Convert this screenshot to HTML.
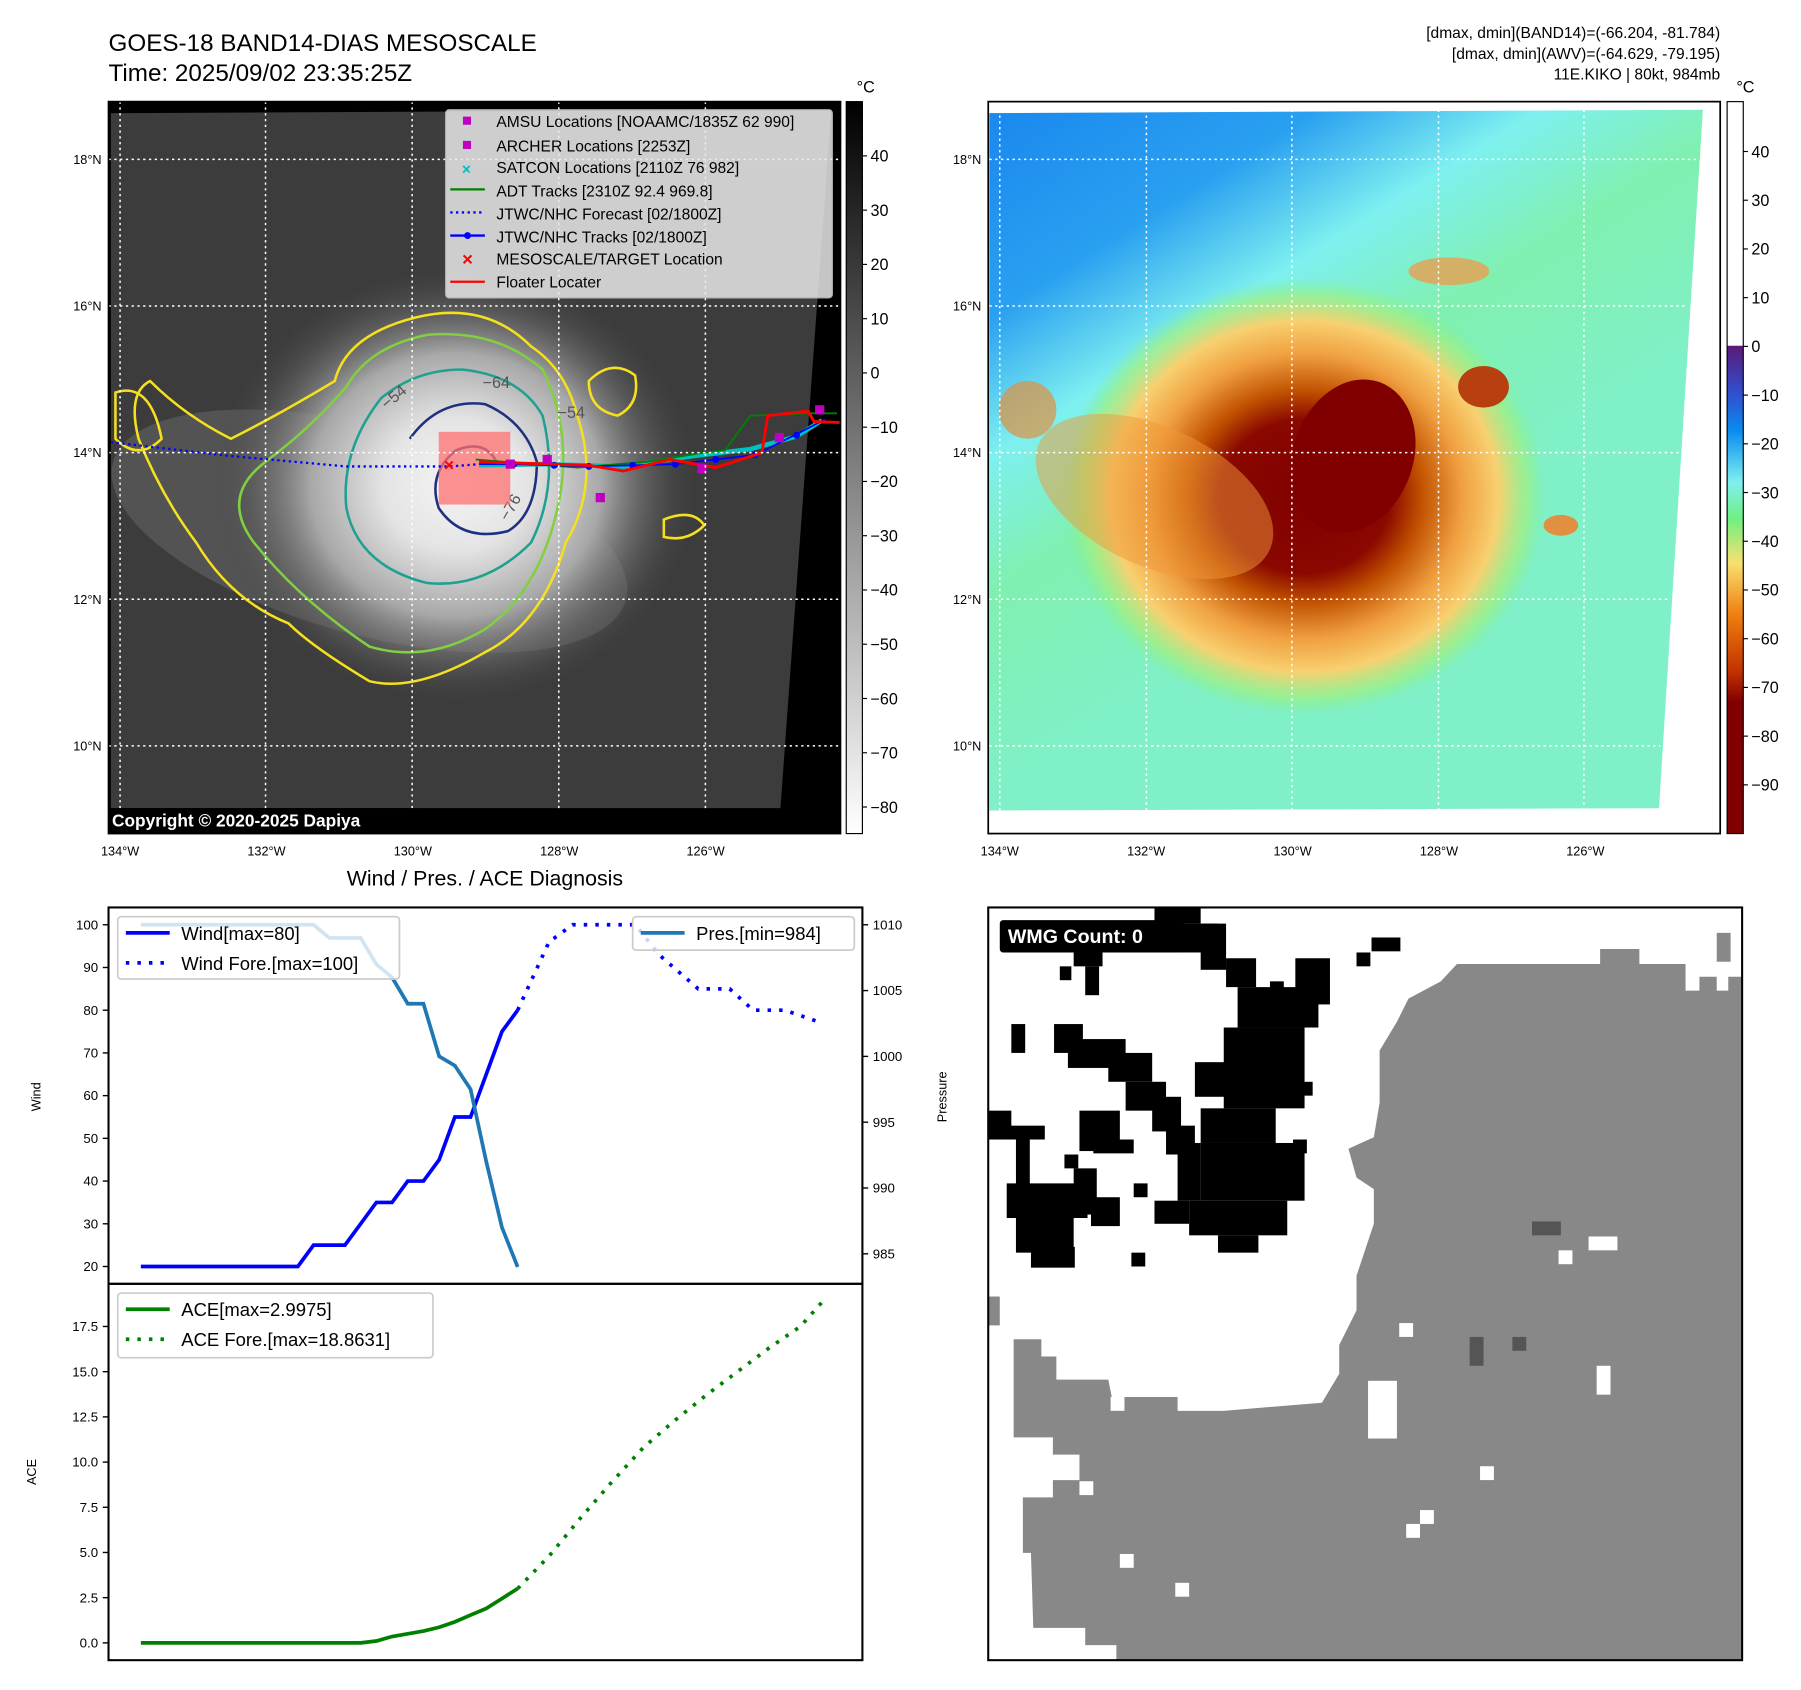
<!DOCTYPE html>
<html><head><meta charset="utf-8"><style>
html,body{margin:0;padding:0;background:#fff;}
svg{display:block;font-family:"Liberation Sans","DejaVu Sans",sans-serif;}
</style></head><body>
<svg id="fig" width="1801" height="1690" viewBox="0 0 1560 1463.8" xmlns="http://www.w3.org/2000/svg">
<defs>
<radialGradient id="coreG" cx="0.5" cy="0.5" r="0.5">
<stop offset="0" stop-color="#f4f4f4"/><stop offset="0.3" stop-color="#e4e4e4"/><stop offset="0.6" stop-color="#a8a8a8"/><stop offset="1" stop-color="#444" stop-opacity="0"/></radialGradient>
<linearGradient id="cb1" x1="0" y1="0" x2="0" y2="1"><stop offset="0" stop-color="#000"/><stop offset="1" stop-color="#fff"/></linearGradient>
<linearGradient id="cb2" x1="0" y1="0" x2="0" y2="1">
<stop offset="0" stop-color="#fff"/><stop offset="0.333" stop-color="#fff"/><stop offset="0.334" stop-color="#5a1a7a"/>
<stop offset="0.4" stop-color="#3050d0"/><stop offset="0.45" stop-color="#0a8cf0"/><stop offset="0.52" stop-color="#7ff0f0"/>
<stop offset="0.57" stop-color="#70f080"/><stop offset="0.63" stop-color="#f8e070"/><stop offset="0.7" stop-color="#f08010"/>
<stop offset="0.78" stop-color="#c03000"/><stop offset="0.82" stop-color="#800000"/><stop offset="1" stop-color="#800000"/></linearGradient>
<linearGradient id="bg2" x1="0" y1="0" x2="0.45" y2="0.7">
<stop offset="0" stop-color="#1a88ee"/><stop offset="0.3" stop-color="#2aa0f0"/><stop offset="0.5" stop-color="#7ef0f0"/><stop offset="0.7" stop-color="#80f0b0"/><stop offset="1" stop-color="#80f0c8"/></linearGradient>
<radialGradient id="storm2" cx="0.5" cy="0.5" r="0.5">
<stop offset="0" stop-color="#800000"/><stop offset="0.35" stop-color="#8a0800"/><stop offset="0.48" stop-color="#c05000"/><stop offset="0.65" stop-color="#f0a040"/><stop offset="0.8" stop-color="#f8d070"/><stop offset="0.92" stop-color="#a0f080" stop-opacity="0.7"/><stop offset="1" stop-color="#80f090" stop-opacity="0"/></radialGradient>
</defs>

<text x="94" y="44" font-size="21">GOES-18 BAND14-DIAS MESOSCALE</text>
<text x="94" y="70" font-size="21">Time: 2025/09/02 23:35:25Z</text>
<g font-size="13.5" text-anchor="end">
<text x="1490" y="33">[dmax, dmin](BAND14)=(-66.204, -81.784)</text>
<text x="1490" y="51">[dmax, dmin](AWV)=(-64.629, -79.195)</text>
<text x="1490" y="69">11E.KIKO | 80kt, 984mb</text>
</g>

<g>
<rect x="94" y="88" width="634" height="634" fill="#000"/>
<polygon points="96,98 720,95 676,700 96,700" fill="#3c3c3c"/>
<ellipse cx="320" cy="460" rx="230" ry="90" fill="#6a6a6a" opacity="0.5" transform="rotate(15 320 460)"/>
<ellipse cx="395" cy="420" rx="210" ry="190" fill="url(#coreG)"/>
<g fill="none" stroke-width="2.2">
<path d="M290,330 Q300,290 360,275 Q420,260 460,300 Q490,320 500,360 Q520,420 490,470 Q470,540 420,565 Q360,600 320,590 Q270,560 250,540 Q200,520 170,470 Q140,430 120,380 Q110,340 130,330 Q160,360 200,380 Q240,360 290,330Z" stroke="#f5e020"/>
<path d="M300,335 Q320,300 370,290 Q430,285 470,320 Q495,370 485,430 Q470,510 420,545 Q370,575 320,560 Q260,520 220,470 Q190,430 230,400 Q270,370 300,335Z" stroke="#80d040"/>
<path d="M330,345 Q360,320 400,320 Q450,325 470,360 Q485,420 460,470 Q420,510 370,505 Q310,490 300,440 Q295,390 330,345Z" stroke="#20a090"/>
<path d="M355,380 Q380,345 420,350 Q455,365 465,400 Q465,445 440,460 Q400,470 380,440 Q370,410 395,390 Q420,380 430,400" stroke="#203080"/>
<path d="M510,330 Q530,310 550,325 Q555,350 535,360 Q510,355 510,330Z" stroke="#f5e020"/>
<path d="M575,450 Q600,440 610,455 Q595,470 575,465Z" stroke="#f5e020"/>
<path d="M100,340 Q130,330 140,380 Q120,400 100,380Z" stroke="#f5e020"/>
</g>
<g fill="#555" font-size="14"><text x="418" y="336">−64</text><text x="483" y="362">−54</text><text x="335" y="355" transform="rotate(-40 335 355)">−54</text><text x="440" y="452" transform="rotate(-60 440 452)">−76</text></g>
<rect x="380" y="374" width="62" height="63" fill="#ff7070" opacity="0.75"/>
<polyline points="96,383 200,395 300,404 390,404 415,402" fill="none" stroke="#0000ff" stroke-width="2" stroke-dasharray="2,3"/>
<polyline points="415,403 470,402 540,404 600,395 650,389 690,378 712,364" fill="none" stroke="#00c0c0" stroke-width="4"/>
<polyline points="412,398 500,405 560,400 610,392 628,390 650,360 700,358 725,358" fill="none" stroke="#008000" stroke-width="1.6"/>
<polyline points="415,402 445,402 480,403 510,404 548,403 585,402 620,398 654,394 690,376 715,363" fill="none" stroke="#0000ff" stroke-width="1.5"/>
<g fill="#0000ff"><circle cx="445" cy="402" r="3"/><circle cx="480" cy="403" r="3"/><circle cx="510" cy="404" r="3"/><circle cx="548" cy="403" r="3"/><circle cx="585" cy="402" r="3"/><circle cx="620" cy="398" r="3"/><circle cx="654" cy="394" r="3"/><circle cx="690" cy="377" r="3"/></g>
<polyline points="415,400 510,403 540,408 580,398 620,405 660,392 665,360 700,356 705,365 728,366" fill="none" stroke="#ff0000" stroke-width="2.5"/>
<g fill="#c000c0"><rect x="470" y="394" width="8" height="8"/><rect x="516" y="427" width="8" height="8"/><rect x="604" y="402" width="8" height="8"/><rect x="706" y="351" width="8" height="8"/><rect x="671" y="375" width="8" height="8"/><rect x="438" y="398" width="8" height="8"/></g>
<text x="389" y="408" font-size="15" fill="#ff0000" text-anchor="middle" font-weight="bold">×</text>
<g stroke="#fff" stroke-width="1.3" stroke-dasharray="2,3">
<line x1="104" y1="88" x2="104" y2="700"/><line x1="230" y1="88" x2="230" y2="700"/><line x1="357" y1="88" x2="357" y2="700"/><line x1="484" y1="88" x2="484" y2="700"/><line x1="611" y1="88" x2="611" y2="700"/>
<line x1="94" y1="138" x2="728" y2="138"/><line x1="94" y1="265" x2="728" y2="265"/><line x1="94" y1="392" x2="728" y2="392"/><line x1="94" y1="519" x2="728" y2="519"/><line x1="94" y1="646" x2="728" y2="646"/>
</g>
<rect x="94" y="700" width="270" height="22" fill="#000"/>
<text x="97" y="716" font-size="15" font-weight="bold" fill="#fff">Copyright © 2020-2025 Dapiya</text>
<rect x="94" y="88" width="634" height="634" fill="none" stroke="#000" stroke-width="1.5"/>
</g>
<g>
<rect x="386" y="95" width="335" height="163" rx="3" fill="#e8e8e8" opacity="0.85" stroke="#ccc"/>
<g font-size="13.5" fill="#000">
<rect x="401" y="101" width="7" height="7" fill="#c000c0"/><text x="430" y="110">AMSU Locations [NOAAMC/1835Z 62 990]</text>
<rect x="401" y="122" width="7" height="7" fill="#c000c0"/><text x="430" y="131">ARCHER Locations [2253Z]</text>
<text x="404" y="151" fill="#00c0c0" text-anchor="middle" font-weight="bold">×</text><text x="430" y="150">SATCON Locations [2110Z 76 982]</text>
<line x1="390" y1="164" x2="420" y2="164" stroke="#008000" stroke-width="2"/><text x="430" y="170">ADT Tracks [2310Z 92.4 969.8]</text>
<line x1="390" y1="184" x2="420" y2="184" stroke="#0000ff" stroke-width="2" stroke-dasharray="2,3"/><text x="430" y="190">JTWC/NHC Forecast [02/1800Z]</text>
<line x1="390" y1="204" x2="420" y2="204" stroke="#0000ff" stroke-width="2"/><circle cx="405" cy="204" r="3" fill="#0000ff"/><text x="430" y="210">JTWC/NHC Tracks [02/1800Z]</text>
<text x="405" y="230" fill="#ff0000" text-anchor="middle" font-weight="bold" font-size="16">×</text><text x="430" y="229">MESOSCALE/TARGET Location</text>
<line x1="390" y1="244" x2="420" y2="244" stroke="#ff0000" stroke-width="2"/><text x="430" y="249">Floater Locater</text>
</g></g>
<g>
<rect x="733" y="88" width="14" height="634" fill="url(#cb1)" stroke="#000"/>
<text x="742" y="80" font-size="14">°C</text>
<g font-size="14" id="cb1ticks"></g>
</g>
<g font-size="11" id="map1ticks"></g>

<g>
<rect x="856" y="88" width="634" height="634" fill="#fff"/>
<polygon points="857,98 1475,95 1437,700 857,702" fill="url(#bg2)"/>
<ellipse cx="1130" cy="430" rx="210" ry="190" fill="url(#storm2)"/>
<ellipse cx="1000" cy="430" rx="110" ry="60" fill="#f09838" opacity="0.5" transform="rotate(25 1000 430)"/>
<ellipse cx="1172" cy="395" rx="52" ry="68" fill="#800000" transform="rotate(20 1172 395)"/>
<ellipse cx="1285" cy="335" rx="22" ry="18" fill="#b84010"/>
<ellipse cx="1255" cy="235" rx="35" ry="12" fill="#e8a050" opacity="0.8"/>
<ellipse cx="1352" cy="455" rx="15" ry="9" fill="#e09040"/>
<ellipse cx="890" cy="355" rx="25" ry="25" fill="#e09040" opacity="0.7"/>
<g stroke="#fff" stroke-width="1.3" stroke-dasharray="2,3">
<line x1="866" y1="95" x2="866" y2="702"/><line x1="993" y1="95" x2="993" y2="702"/><line x1="1119" y1="95" x2="1119" y2="702"/><line x1="1246" y1="95" x2="1246" y2="702"/><line x1="1372" y1="95" x2="1372" y2="702"/>
<line x1="857" y1="138" x2="1470" y2="138"/><line x1="857" y1="265" x2="1462" y2="265"/><line x1="857" y1="392" x2="1454" y2="392"/><line x1="857" y1="519" x2="1446" y2="519"/><line x1="857" y1="646" x2="1438" y2="646"/>
</g>
<rect x="856" y="88" width="634" height="634" fill="none" stroke="#000" stroke-width="1.5"/>
</g>
<g>
<rect x="1496" y="88" width="14" height="634" fill="url(#cb2)" stroke="#000"/>
<text x="1504" y="80" font-size="14">°C</text>
<g font-size="14" id="cb2ticks"></g>
</g>
<g font-size="11" id="map2ticks"></g>

<text x="420" y="767" font-size="18.5" text-anchor="middle">Wind / Pres. / ACE Diagnosis</text>
<g id="chart"></g>
<rect x="94" y="786" width="653" height="326" fill="none" stroke="#000" stroke-width="1.8"/>
<rect x="94" y="1112" width="653" height="326" fill="none" stroke="#000" stroke-width="1.8"/>
<text x="35" y="950" font-size="11" text-anchor="middle" transform="rotate(-90 35 950)">Wind</text>
<text x="820" y="950" font-size="11" text-anchor="middle" transform="rotate(-90 820 950)">Pressure</text>
<text x="31" y="1275" font-size="11" text-anchor="middle" transform="rotate(-90 31 1275)">ACE</text>

<g>
<rect x="856" y="786" width="653" height="652" fill="#fff"/>
<polygon fill="#888" points="1386,822 1420,822 1420,835 1460,835 1460,858 1472,858 1472,846 1487,846 1487,858 1497,858 1497,846 1509,846 1509,1438 967,1438 967,1425 940,1425 940,1410 895,1410 893,1345 886,1345 886,1297 912,1297 912,1282 935,1282 935,1260 912,1260 912,1245 878,1245 878,1160 902,1160 902,1175 915,1175 915,1195 960,1195 963,1210 1020,1210 1020,1222 1060,1222 1060,1222 1145,1215 1160,1190 1160,1165 1175,1135 1175,1105 1190,1060 1190,1030 1175,1020 1168,995 1190,985 1195,955 1195,910 1210,885 1220,865 1248,850 1262,835 1386,835"/>
<rect x="1487" y="808" width="12" height="25" fill="#888"/>
<rect x="856" y="1123" width="10" height="25" fill="#888"/>
<g fill="#fff"><rect x="1376" y="1071" width="25" height="12"/><rect x="1350" y="1083" width="12" height="12"/><rect x="1212" y="1146" width="12" height="12"/><rect x="1383" y="1183" width="12" height="25"/><rect x="1185" y="1196" width="25" height="50"/><rect x="1282" y="1270" width="12" height="12"/><rect x="935" y="1283" width="12" height="12"/><rect x="1230" y="1308" width="12" height="12"/><rect x="1218" y="1320" width="12" height="12"/><rect x="970" y="1346" width="12" height="12"/><rect x="1018" y="1371" width="12" height="12"/><rect x="962" y="1210" width="12" height="12"/></g>
<g fill="#555"><rect x="1327" y="1058" width="25" height="12"/><rect x="1273" y="1158" width="12" height="25"/><rect x="1310" y="1158" width="12" height="12"/></g>
<g fill="#000">
<rect x="1000" y="786" width="40" height="14"/><rect x="1015" y="800" width="40" height="25"/><rect x="1040" y="800" width="22" height="40"/>
<rect x="930" y="825" width="25" height="12"/><rect x="940" y="837" width="12" height="25"/><rect x="918" y="837" width="10" height="12"/>
<rect x="1062" y="830" width="26" height="25"/><rect x="1100" y="850" width="12" height="12"/><rect x="1122" y="830" width="30" height="40"/>
<rect x="1072" y="855" width="70" height="35"/><rect x="1060" y="890" width="70" height="70"/><rect x="1035" y="920" width="75" height="30"/>
<rect x="1040" y="960" width="65" height="30"/><rect x="1040" y="990" width="90" height="50"/><rect x="1030" y="1040" width="85" height="30"/><rect x="1055" y="1070" width="35" height="15"/>
<rect x="1000" y="1040" width="30" height="20"/><rect x="1020" y="990" width="20" height="50"/>
<rect x="876" y="887" width="12" height="25"/><rect x="913" y="887" width="25" height="25"/><rect x="925" y="900" width="50" height="25"/><rect x="960" y="912" width="38" height="25"/><rect x="975" y="937" width="35" height="25"/><rect x="998" y="950" width="25" height="30"/><rect x="1010" y="975" width="25" height="25"/>
<rect x="856" y="962" width="20" height="25"/><rect x="870" y="975" width="35" height="12"/><rect x="880" y="987" width="12" height="40"/>
<rect x="935" y="962" width="35" height="35"/><rect x="947" y="987" width="35" height="12"/><rect x="922" y="1000" width="12" height="12"/>
<rect x="872" y="1025" width="70" height="30"/><rect x="880" y="1050" width="50" height="35"/><rect x="893" y="1080" width="38" height="18"/>
<rect x="930" y="1012" width="20" height="40"/><rect x="945" y="1037" width="25" height="25"/><rect x="982" y="1025" width="12" height="12"/><rect x="980" y="1085" width="12" height="12"/>
<rect x="1175" y="825" width="12" height="12"/><rect x="1188" y="812" width="25" height="12"/><rect x="1125" y="937" width="12" height="12"/><rect x="1120" y="987" width="12" height="12"/>
</g>
<rect x="866" y="797" width="159" height="28" rx="3" fill="#000"/>
<text x="873" y="817" font-size="17" font-weight="bold" fill="#fff">WMG Count: 0</text>
<rect x="856" y="786" width="653" height="652" fill="none" stroke="#000" stroke-width="1.8"/>
</g>

<script>
// ---- Chart data ----
const windObsX = [0,10,11,13,14,15,16,17,18,19,20,21,22,23,24];
const windObs = [20,20,25,25,30,35,35,40,40,45,55,55,65,75,80];
const windFcstX = [24,25,26,27.5,31.5,33,35.5,37.5,39,41,43.4];
const windFcst = [80,88,96,100,100,93,85,85,80,80,77];
const presX = [0,11,12,14,15,16,17,18,19,20,21,22,23,24];
const presObs = [1010,1010,1009,1009,1007,1006,1004,1004,1000,999.3,997.5,992,987,984];
const aceObsX = [0,14,15,16,17,18,19,20,21,22,23,24];
const aceObs = [0,0,0.1,0.35,0.5,0.65,0.86,1.16,1.54,1.9,2.45,3.0];
const aceFcstX = [24,26,28,30,32,34,36,38,40,42,43.4];
const aceFcst = [3.0,4.8,6.9,8.9,10.8,12.3,13.7,15.0,16.3,17.5,18.86];
const windTicks = [20,30,40,50,60,70,80,90,100];
const presTicks = [985,990,995,1000,1005,1010];
const aceTicks = [0,2.5,5,7.5,10,12.5,15,17.5];
const cb1Ticks = [40,30,20,10,0,-10,-20,-30,-40,-50,-60,-70,-80];
const cb2Ticks = [40,30,20,10,0,-10,-20,-30,-40,-50,-60,-70,-80,-90];
const lonTicks = [134,132,130,128,126];
const latTicks = [18,16,14,12,10];

const NS='http://www.w3.org/2000/svg';
function mk(tag, attrs, parent){const e=document.createElementNS(NS,tag);for(const k in attrs)e.setAttribute(k,attrs[k]);parent.appendChild(e);return e;}
const xIdx = i => 122 + i*13.6;
const yWind = v => 1097 - (v-20)*3.7;
const yPres = p => 801 + (1010-p)*11.4;
const yAce = a => 1423 - a*15.66;
const chart = document.getElementById('chart');
function line(xs, ys, fx, fy, color, dash, name){
  const pts = xs.map((x,i)=>fx(x).toFixed(1)+','+fy(ys[i]).toFixed(1)).join(' ');
  const p = mk('polyline',{points:pts,fill:'none',stroke:color,'stroke-width':3.2},chart);
  if(dash){p.setAttribute('stroke-dasharray',dash);}
  
  
}
line(windObsX, windObs, xIdx, yWind, '#0000ff', null, 'wind-line');
line(windFcstX, windFcst, xIdx, yWind, '#0000ff', '3,7', 'wind-forecast-line');
line(presX, presObs, xIdx, yPres, '#1f77b4', null, 'pressure-line');
line(aceObsX, aceObs, xIdx, yAce, '#008000', null, 'ace-line');
line(aceFcstX, aceFcst, xIdx, yAce, '#008000', '3,7', 'ace-forecast-line');
function ticks(vals, fy, side, fmt){
  vals.forEach(v=>{
    const y=fy(v);
    const x0 = side==='L'?94:747;
    mk('line',{x1:x0,y1:y,x2:side==='L'?x0-5:x0+5,y2:y,stroke:'#000','stroke-width':1.2},chart);
    const t=mk('text',{x:side==='L'?x0-9:x0+9,y:y+4,'font-size':11.5,'text-anchor':side==='L'?'end':'start'},chart);
    t.textContent=fmt(v);
    
    
  });
}
ticks(windTicks, yWind, 'L', v=>String(v));
ticks(presTicks, yPres, 'R', v=>String(v));
ticks(aceTicks, yAce, 'L', v=>v.toFixed(1));
function legend(x,y,w,h,items,name){
  const g=mk('g',{},chart);
  
  
  mk('rect',{x:x,y:y,width:w,height:h,rx:3,fill:'#fff','fill-opacity':0.8,stroke:'#ccc','stroke-width':1.5},g);
  items.forEach((it,i)=>{
    const yy=y+14+i*26;
    const l=mk('line',{x1:x+7,y1:yy,x2:x+45,y2:yy,stroke:it[1],'stroke-width':3.2},g);
    if(it[2])l.setAttribute('stroke-dasharray','3,7');
    const t=mk('text',{x:x+55,y:yy+6,'font-size':16},g);t.textContent=it[0];
  });
}
legend(102,794,244,54,[['Wind[max=80]','#0000ff',false],['Wind Fore.[max=100]','#0000ff',true]],'wind-legend');
legend(548,794,192,29,[['Pres.[min=984]','#1f77b4',false]],'pressure-legend');
legend(102,1120,273,56,[['ACE[max=2.9975]','#008000',false],['ACE Fore.[max=18.8631]','#008000',true]],'ace-legend');
function cbTicks(id, vals, x, fy){
  const g=document.getElementById(id);
  vals.forEach(v=>{
    const y=fy(v);
    mk('line',{x1:x,y1:y,x2:x+4,y2:y,stroke:'#000'},g);
    const t=mk('text',{x:x+7,y:y+5},g);t.textContent=(v<0?'\u2212':'')+Math.abs(v);
  });
}
cbTicks('cb1ticks', cb1Ticks, 747, v=>323-v*4.7);
cbTicks('cb2ticks', cb2Ticks, 1510, v=>300-v*4.22);
function mapTicks(id, x0){
  const g=document.getElementById(id);
  lonTicks.forEach(l=>{const x=x0+(134-l)*63.4;const t=mk('text',{x:x,y:741,'text-anchor':'middle'},g);t.textContent=l+'°W';});
  latTicks.forEach(l=>{const y=392-(l-14)*63.5;const t=mk('text',{x:x0-16,y:y+4,'text-anchor':'end'},g);t.textContent=l+'°N';});
}
mapTicks('map1ticks',104);
mapTicks('map2ticks',866);
</script>
</svg>
</body></html>
